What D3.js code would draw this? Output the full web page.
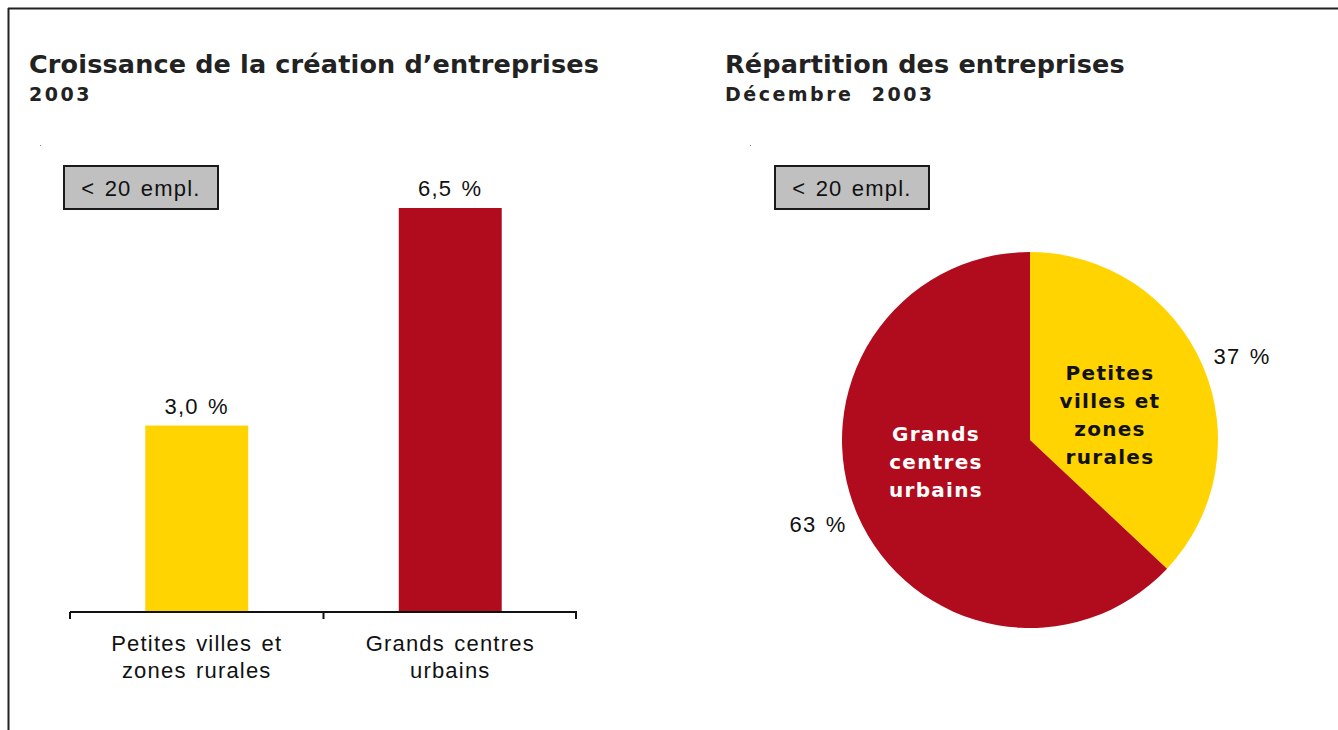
<!DOCTYPE html>
<html>
<head>
<meta charset="utf-8">
<script src="https://cdn.jsdelivr.net/npm/d3@7"></script>
<style>
  body { margin: 0; background: #fff; }
  svg { display: block; font-family: "Liberation Sans", Arial, sans-serif; }
  .title { font-family: "DejaVu Sans", sans-serif; font-weight: bold; fill: #222; }
  .lbl { font-size: 22px; letter-spacing: 1.2px; word-spacing: 2px; fill: #111; }
</style>
</head>
<body>
<svg id="chart" width="1338" height="730"></svg>
<script>
// bar chart data
const barCategories = [["Petites villes et", "zones rurales"], ["Grands centres", "urbains"]];
const barValues = [3.0, 6.5];
const barLabels = ["3,0 %", "6,5 %"];

// pie chart data
const pieCategories = [["Petites", "villes et", "zones", "rurales"], ["Grands", "centres", "urbains"]];
const pieValues = [37, 63];
const pieLabels = ["37 %", "63 %"];

const colors = ["#ffd400", "#b00c1e"];

const svg = d3.select("#chart");

// frame
svg.append("line").attr("x1", 8).attr("y1", 8.5).attr("x2", 1338).attr("y2", 8.5)
    .attr("stroke", "#222").attr("stroke-width", 2);
svg.append("line").attr("x1", 8.5).attr("y1", 8).attr("x2", 8.5).attr("y2", 730)
    .attr("stroke", "#222").attr("stroke-width", 2);

function titles(x, main, sub) {
    svg.append("text").attr("class", "title").attr("x", x).attr("y", 73)
        .attr("font-size", 25.5).attr("letter-spacing", 0.15).text(main);
    svg.append("text").attr("class", "title").attr("x", x).attr("y", 101)
        .attr("font-size", 19).attr("letter-spacing", 2.5)
        .style("white-space", "pre").text(sub);
}

function empBox(x) {
    const g = svg.append("g");
    g.append("rect").attr("x", x).attr("y", 166).attr("width", 154).attr("height", 43)
        .attr("fill", "#c0c0c0").attr("stroke", "#1a1a1a").attr("stroke-width", 2);
    g.append("text").attr("class", "lbl").attr("x", x + 77).attr("y", 196)
        .attr("text-anchor", "middle").text("< 20 empl.");
}

titles(29, "Croissance de la création d\u2019entreprises", "2003");
titles(725, "Répartition des entreprises", "Décembre  2003");
svg.append("rect").attr("x", 40).attr("y", 145).attr("width", 1).attr("height", 1).attr("fill", "#888");
svg.append("rect").attr("x", 750).attr("y", 145).attr("width", 1).attr("height", 1).attr("fill", "#888");
empBox(64);
empBox(775);

// ---- bar chart ----
const x = d3.scaleBand().domain(d3.range(barValues.length)).range([70, 577])
    .paddingInner(0.594).paddingOuter(0.297);
const y = d3.scaleLinear().domain([0, 6.5]).range([612, 208]);

svg.selectAll(".bar").data(barValues).join("rect")
    .attr("class", "bar")
    .attr("x", (d, i) => x(i))
    .attr("y", d => y(d))
    .attr("width", x.bandwidth())
    .attr("height", d => y(0) - y(d))
    .attr("fill", (d, i) => colors[i]);

svg.selectAll(".barlabel").data(barValues).join("text")
    .attr("class", "barlabel lbl")
    .attr("x", (d, i) => x(i) + x.bandwidth() / 2)
    .attr("y", d => y(d) - 12)
    .attr("text-anchor", "middle")
    .attr("word-spacing", 5)
    .text((d, i) => barLabels[i]);

// axis with ticks at band boundaries
const step = x.step();
const axisG = svg.append("g").attr("stroke", "#111").attr("stroke-width", 2);
axisG.append("line").attr("x1", 70).attr("x2", 577).attr("y1", y(0)).attr("y2", y(0));
d3.range(barValues.length + 1).forEach(i => {
    const tx = Math.min(70 + i * step, 576);
    axisG.append("line").attr("x1", tx).attr("x2", tx).attr("y1", y(0)).attr("y2", y(0) + 7);
});

barCategories.forEach((lines, i) => {
    const t = svg.append("text").attr("class", "lbl").attr("text-anchor", "middle");
    lines.forEach((l, j) => {
        t.append("tspan").attr("x", x(i) + x.bandwidth() / 2).attr("y", 651 + j * 27).text(l);
    });
});

// ---- pie chart ----
const cx = 1030, cy = 440, r = 188;
const pie = d3.pie().sort(null).value(d => d);
const arc = d3.arc().innerRadius(0).outerRadius(r);
const arcs = pie(pieValues);
const pg = svg.append("g").attr("transform", `translate(${cx},${cy})`);
pg.selectAll("path").data(arcs).join("path")
    .attr("d", arc)
    .attr("fill", (d, i) => colors[i]);

// inside labels
const innerPos = [[80, -60], [-94, 1]];
const innerFill = ["#111", "#fff"];
arcs.forEach((a, i) => {
    const t = pg.append("text").attr("text-anchor", "middle").attr("font-size", 20)
        .attr("font-weight", "bold").attr("letter-spacing", 1.3)
        .attr("font-family", "'DejaVu Sans', sans-serif")
        .attr("fill", innerFill[i]);
    pieCategories[i].forEach((l, j) => {
        t.append("tspan").attr("x", innerPos[i][0]).attr("y", innerPos[i][1] + j * 28).text(l);
    });
});

// outside percentage labels
const outerPos = [[212, -76], [-212, 92]];
arcs.forEach((a, i) => {
    pg.append("text").attr("class", "lbl").attr("x", outerPos[i][0]).attr("y", outerPos[i][1])
        .attr("text-anchor", "middle").attr("word-spacing", 5)
        .text(pieLabels[i]);
});
</script>
</body>
</html>
